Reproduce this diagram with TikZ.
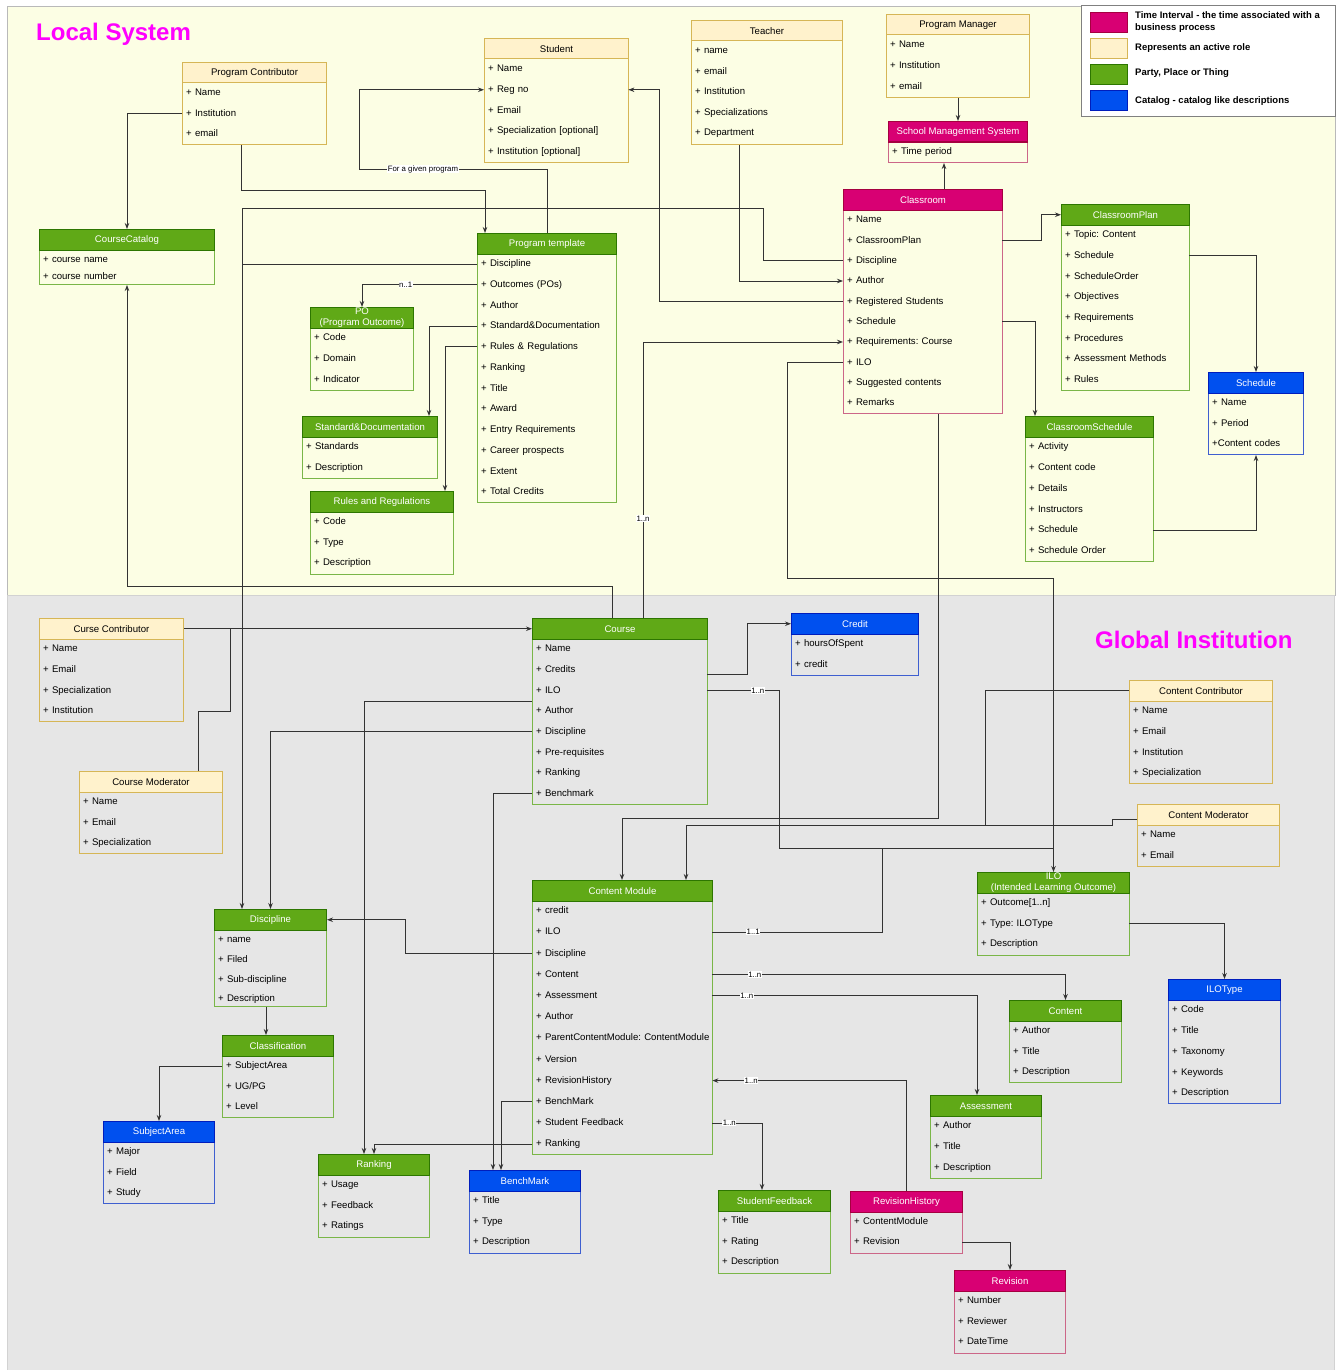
\documentclass[tikz,border=0pt]{standalone}
\usepackage{fontspec}
\setmainfont{Liberation Sans}
\usetikzlibrary{arrows.meta}

\definecolor{localbg}{HTML}{FCFEE4}
\definecolor{globalbg}{HTML}{E6E6E6}
\definecolor{hgrn}{HTML}{60A917}
\definecolor{dgrn}{HTML}{2D7600}
\definecolor{bgrn}{HTML}{7AB648}
\definecolor{hmag}{HTML}{D80073}
\definecolor{dmag}{HTML}{A50040}
\definecolor{bmag}{HTML}{CC6688}
\definecolor{hblu}{HTML}{0050EF}
\definecolor{dblu}{HTML}{001DBC}
\definecolor{bblu}{HTML}{3F5FD0}
\definecolor{hcrm}{HTML}{FFF2CC}
\definecolor{dcrm}{HTML}{D6B656}
\definecolor{lk}{HTML}{333333}
\definecolor{ttl}{RGB}{255,0,255}

\newcommand\attrfont{\fontsize{9.6}{11}\selectfont}

\tikzset{
  head/.style={anchor=north west, minimum height=20.5pt, inner sep=0pt, align=center, font=\attrfont, line width=1pt},
  body/.style={anchor=north west, inner sep=0pt, line width=1pt},
  grn head/.style={head, fill=hgrn, draw=dgrn, text=white},
  grn body/.style={body, draw=bgrn},
  mag head/.style={head, fill=hmag, draw=dmag, text=white},
  mag body/.style={body, draw=bmag},
  blu head/.style={head, fill=hblu, draw=dblu, text=white},
  blu body/.style={body, draw=bblu},
  crm head/.style={head, fill=hcrm, draw=dcrm, text=black},
  crm body/.style={body, draw=dcrm},
  attr/.style={anchor=west, inner xsep=4pt, inner ysep=1pt, align=left, font=\attrfont, text height=7.5pt, text depth=2pt},
  link/.style={draw=lk, line width=0.9pt},
  arr/.style={link, -{Stealth[length=6pt, width=4.5pt]}},
  lbl/.style={fill=white, inner sep=0.6pt, font=\fontsize{7.8}{9}\selectfont, text=black},
  swatch/.style={anchor=north west, minimum width=37pt, minimum height=20pt, inner sep=0pt, line width=0.8pt},
  legtext/.style={anchor=west, align=left, inner sep=0pt, font=\fontsize{9.5}{11.5}\selectfont\bfseries},
  title/.style={anchor=west, inner sep=0pt, text=ttl, font=\fontsize{24}{28}\selectfont\bfseries}
}

\begin{document}
\frenchspacing
\begin{tikzpicture}[x=1pt, y=-1pt]
% name, kind, top left, width, height, title, row step, rows
\def\uclass#1#2#3#4#5#6#7#8{%
  \node[#2 body, minimum width=#4pt, minimum height=#5pt] (#1-box) at (#3) {};
  \node[#2 head, minimum width=#4pt] (#1) at (#3) {#6};
  \pgfmathsetmacro\tw{#4-8}
  \foreach \kk/\txt [count=\i from 0] in {#8}{
    \pgfmathsetmacro\dy{-31-\i*#7}
    \node[attr, text width=\tw pt] (#1-\kk) at ([yshift=\dy pt]#1-box.north west) {\txt};
  }
}
\useasboundingbox (0,0) rectangle (1337,1370);

\draw[draw=gray!55, line width=1pt, fill=localbg] (7,7) rectangle (1335,595);
\draw[draw=gray!35, line width=1pt, fill=globalbg] (7,595) rectangle (1334,1372);

\node[title] (lsys) at (36,34) {Local System};
\node[title] (gins) at (1095,640) {Global Institution};

% legend
\draw[draw=gray, line width=1pt, fill=white] (1081,6) rectangle (1335,117);
\node[swatch, fill=hmag, draw=dmag] (lg1) at (1090,12) {};
\node[swatch, fill=hcrm, draw=dcrm] (lg2) at (1090,38) {};
\node[swatch, fill=hgrn, draw=dgrn] (lg3) at (1090,64) {};
\node[swatch, fill=hblu, draw=dblu] (lg4) at (1090,90) {};
\node[legtext] (lt1) at (1135,22) {Time Interval - the time associated with a\\business process};
\node[legtext] (lt2) at (1135,48) {Represents an active role};
\node[legtext] (lt3) at (1135,73) {Party, Place or Thing};
\node[legtext] (lt4) at (1135,101) {Catalog - catalog like descriptions};

% local system
\uclass{pc}{crm}{182,62}{144}{82}{Program Contributor}{20.5}{name/+ Name, inst/+ Institution, mail/+ email}
\uclass{stu}{crm}{484,38}{144}{124}{Student}{20.75}{name/+ Name, reg/+ Reg no, mail/+ Email, spec/{+ Specialization [optional]}, inst/{+ Institution [optional]}}
\uclass{tch}{crm}{691,20}{151}{124}{Teacher}{20.5}{name/+ name, mail/+ email, inst/+ Institution, spec/+ Specializations, dep/+ Department}
\uclass{pm}{crm}{886,14}{143}{83}{Program Manager}{21}{name/+ Name, inst/+ Institution, mail/+ email}
\uclass{sms}{mag}{888,121}{139}{41}{School Management System}{20}{per/+ Time period}
\uclass{cls}{mag}{843,189}{159}{224}{Classroom}{20.33}{name/+ Name, plan/+ ClassroomPlan, dis/+ Discipline, aut/+ Author, reg/+ Registered Students, sch/+ Schedule, req/{+ Requirements: Course}, ilo/+ ILO, sug/+ Suggested contents, rem/+ Remarks}
\uclass{cp}{grn}{1061,204}{128}{186}{ClassroomPlan}{20.7}{top/{+ Topic: Content}, sch/+ Schedule, ord/+ ScheduleOrder, obj/+ Objectives, req/+ Requirements, proc/+ Procedures, am/+ Assessment Methods, rul/+ Rules}
\uclass{sch}{blu}{1208,372}{95}{82}{Schedule}{20.5}{name/+ Name, per/+ Period, cc/+Content codes}
\uclass{csch}{grn}{1025,416}{128}{145}{ClassroomSchedule}{20.8}{act/+ Activity, code/+ Content code, det/+ Details, ins/+ Instructors, sch/+ Schedule, ord/+ Schedule Order}
\uclass{cc}{grn}{39,229}{175}{55}{CourseCatalog}{17}{name/+ course name, num/+ course number}
\uclass{pt}{grn}{477,233}{139}{269}{Program template}{20.73}{dis/+ Discipline, out/+ Outcomes (POs), aut/+ Author, std/+ Standard\&Documentation, rul/+ Rules \& Regulations, rnk/+ Ranking, tit/+ Title, awd/+ Award, ent/+ Entry Requirements, car/+ Career prospects, ext/+ Extent, tot/+ Total Credits}
\uclass{po}{grn}{310,307}{103}{83}{PO\\(Program Outcome)}{21}{code/+ Code, dom/+ Domain, ind/+ Indicator}
\uclass{sd}{grn}{302,416}{135}{62}{Standard\&Documentation}{21}{std/+ Standards, desc/+ Description}
\uclass{rr}{grn}{310,491}{143}{83}{Rules and Regulations}{20.5}{code/+ Code, type/+ Type, desc/+ Description}

% global institution
\uclass{ccon}{crm}{39,618}{144}{103}{Curse Contributor}{20.67}{name/+ Name, mail/+ Email, spec/+ Specialization, inst/+ Institution}
\uclass{cmod}{crm}{79,771}{143}{82}{Course Moderator}{20.5}{name/+ Name, mail/+ Email, spec/+ Specialization}
\uclass{crs}{grn}{532,618}{175}{186}{Course}{20.7}{name/+ Name, crd/+ Credits, ilo/+ ILO, aut/+ Author, dis/+ Discipline, pre/+ Pre-requisites, rnk/+ Ranking, bm/+ Benchmark}
\uclass{cred}{blu}{791,613}{127}{62}{Credit}{21}{hrs/+ hoursOfSpent, crd/+ credit}
\uclass{tcon}{crm}{1129,680}{143}{103}{Content Contributor}{20.67}{name/+ Name, mail/+ Email, inst/+ Institution, spec/+ Specialization}
\uclass{tmod}{crm}{1137,804}{142}{62}{Content Moderator}{21}{name/+ Name, mail/+ Email}
\uclass{ilo}{grn}{977,872}{152}{83}{ILO\\(Intended Learning Outcome)}{20.5}{out/{+ Outcome[1..n]}, typ/{+ Type: ILOType}, desc/+ Description}
\uclass{ilot}{blu}{1168,979}{112}{124}{ILOType}{20.75}{code/+ Code, tit/+ Title, tax/+ Taxonomy, key/+ Keywords, desc/+ Description}
\uclass{cnt}{grn}{1009,1000}{112}{82}{Content}{20.5}{aut/+ Author, tit/+ Title, desc/+ Description}
\uclass{asm}{grn}{930,1095}{111}{83}{Assessment}{21}{aut/+ Author, tit/+ Title, desc/+ Description}
\uclass{rh}{mag}{850,1191}{112}{62}{RevisionHistory}{20}{cm/+ ContentModule, rev/+ Revision}
\uclass{rev}{mag}{954,1270}{111}{83}{Revision}{20.5}{num/+ Number, rvw/+ Reviewer, dt/+ DateTime}
\uclass{cm}{grn}{532,880}{180}{274}{Content Module}{21.2}{crd/+ credit, ilo/+ ILO, dis/+ Discipline, cnt/+ Content, asm/+ Assessment, aut/+ Author, par/{\mbox{+ ParentContentModule: ContentModule}}, ver/+ Version, rev/+ RevisionHistory, bm/+ BenchMark, sf/+ Student Feedback, rnk/+ Ranking}
\uclass{bm}{blu}{469,1170}{111}{83}{BenchMark}{20.5}{tit/+ Title, type/+ Type, desc/+ Description}
\uclass{sf}{grn}{718,1190}{112}{83}{StudentFeedback}{20.5}{tit/+ Title, rat/+ Rating, desc/+ Description}
\uclass{dis}{grn}{214,909}{112}{97}{Discipline}{19.7}{name/+ name, fil/+ Filed, sub/+ Sub-discipline, desc/+ Description}
\uclass{clf}{grn}{222,1035}{111}{82}{Classification}{20.5}{sa/+ SubjectArea, ug/{+ UG/PG}, lev/+ Level}
\uclass{sa}{blu}{103,1121}{111}{82}{SubjectArea}{20.5}{maj/+ Major, fld/+ Field, stu/+ Study}
\uclass{rnk}{grn}{318,1154}{111}{83}{Ranking}{20.5}{use/+ Usage, fb/+ Feedback, rat/+ Ratings}

% links, local system
\draw[arr] (pc-inst.west) -| (cc.north);
\draw[arr] ([xshift=59pt]pc-box.south west) -- ++(0,45) -| ([xshift=8pt]pt.north west);
\draw[arr] (pt.north) -- ++(0,-64) -- node[lbl, pos=0.66] {For a given program} ++(-188,0) |- (stu-reg.west);
\draw[arr] (cls-reg.west) -| ([xshift=31pt]stu-reg.east) -- (stu-reg.east);
\draw[arr] ([xshift=48pt]tch-box.south west) |- (cls-aut.west);
\draw[arr] (cls-dis.west) -- ++(-80,0) -- ++(0,-52) -| ([xshift=28pt]dis.north west);
\draw[link] (pt-dis.west) -- ++(-235,0);
\draw[arr] (pt-out.west) -| node[lbl, pos=0.31] {n..1} (po.north);
\draw[arr] (pt-std.west) -| ([xshift=127pt]sd.north west);
\draw[arr] (pt-rul.west) -| ([xshift=135pt]rr.north west);
\draw[arr] ([xshift=80pt]crs.north west) -- ++(0,-32) -| (cc-box.south);
\draw[arr] ([xshift=111pt]crs.north west) |- node[lbl, pos=0.18] {1..n} (cls-req.west);
\draw[arr] (cls-ilo.west) -- ++(-56,0) -- ++(0,216) -| (ilo.north);
\draw[arr] (pm-box.south) -- (sms.north);
\draw[arr] ([xshift=101pt]cls.north west) -- ([xshift=56pt]sms-box.south west);
\draw[arr] (cls-plan.east) -- ++(39,0) |- (cp.west);
\draw[arr] (cls-sch.east) -| ([xshift=10pt]csch.north west);
\draw[arr] (cp-sch.east) -| (sch.north);
\draw[arr] (csch-sch.east) -| (sch-box.south);

% links, global institution
\draw[arr] (ccon.east) -- (crs.west);
\draw[link] ([xshift=119pt]cmod.north west) -- ++(0,-60) -- ++(32,0) |- (ccon.east);
\draw[arr] ([xshift=95pt]cls-box.south west) -- ++(0,404) -| ([xshift=90pt]cm.north west);
\draw[arr] (tcon.west) -- ++(-144,0) -- ++(0,135) -| ([xshift=154pt]cm.north west);
\draw[link] ([yshift=-5pt]tmod.west) -- ++(-25,0) -- ++(0,6) -- ++(-127,0);
\draw[arr] ([yshift=-5pt]crs-crd.east) -- ++(40,0) |- (cred.west);
\draw[link] (crs-ilo.east) -- node[lbl, pos=0.7] {1..n} ++(72,0) -- ++(0,158) -- ++(274,0);
\draw[link] (cm-ilo.east) -- node[lbl, pos=0.24] {1..1} ++(170,0) -- ++(0,-84);
\draw[arr] ([yshift=10pt]crs-aut.west) -| ([xshift=46pt]rnk.north west);
\draw[arr] (crs-dis.west) -| (dis.north);
\draw[arr] (crs-bm.west) -| ([xshift=24pt]bm.north west);
\draw[arr] (cm-bm.west) -| ([xshift=32pt]bm.north west);
\draw[arr] (cm-rnk.west) -| (rnk.north);
\draw[arr] (cm-dis.west) -- ++(-127,0) |- (dis.east);
\draw[arr] ([xshift=52pt]dis-box.south west) -- ([xshift=44pt]clf.north west);
\draw[arr] (clf-sa.west) -| (sa.north);
\draw[arr] (cm-cnt.east) -| node[lbl, pos=0.06] {1..n} (cnt.north);
\draw[arr] (cm-asm.east) -| node[lbl, pos=0.065] {1..n} ([xshift=47pt]asm.north west);
\draw[arr] (rh.north) |- node[lbl, pos=0.9] {1..n} (cm-rev.east);
\draw[arr] (cm-sf.east) -| node[lbl, pos=0.17] {1..n} ([xshift=44pt]sf.north west);
\draw[arr] (rh-rev.east) -| (rev.north);
\draw[arr] (ilo-typ.east) -| (ilot.north);

\end{tikzpicture}
\end{document}
